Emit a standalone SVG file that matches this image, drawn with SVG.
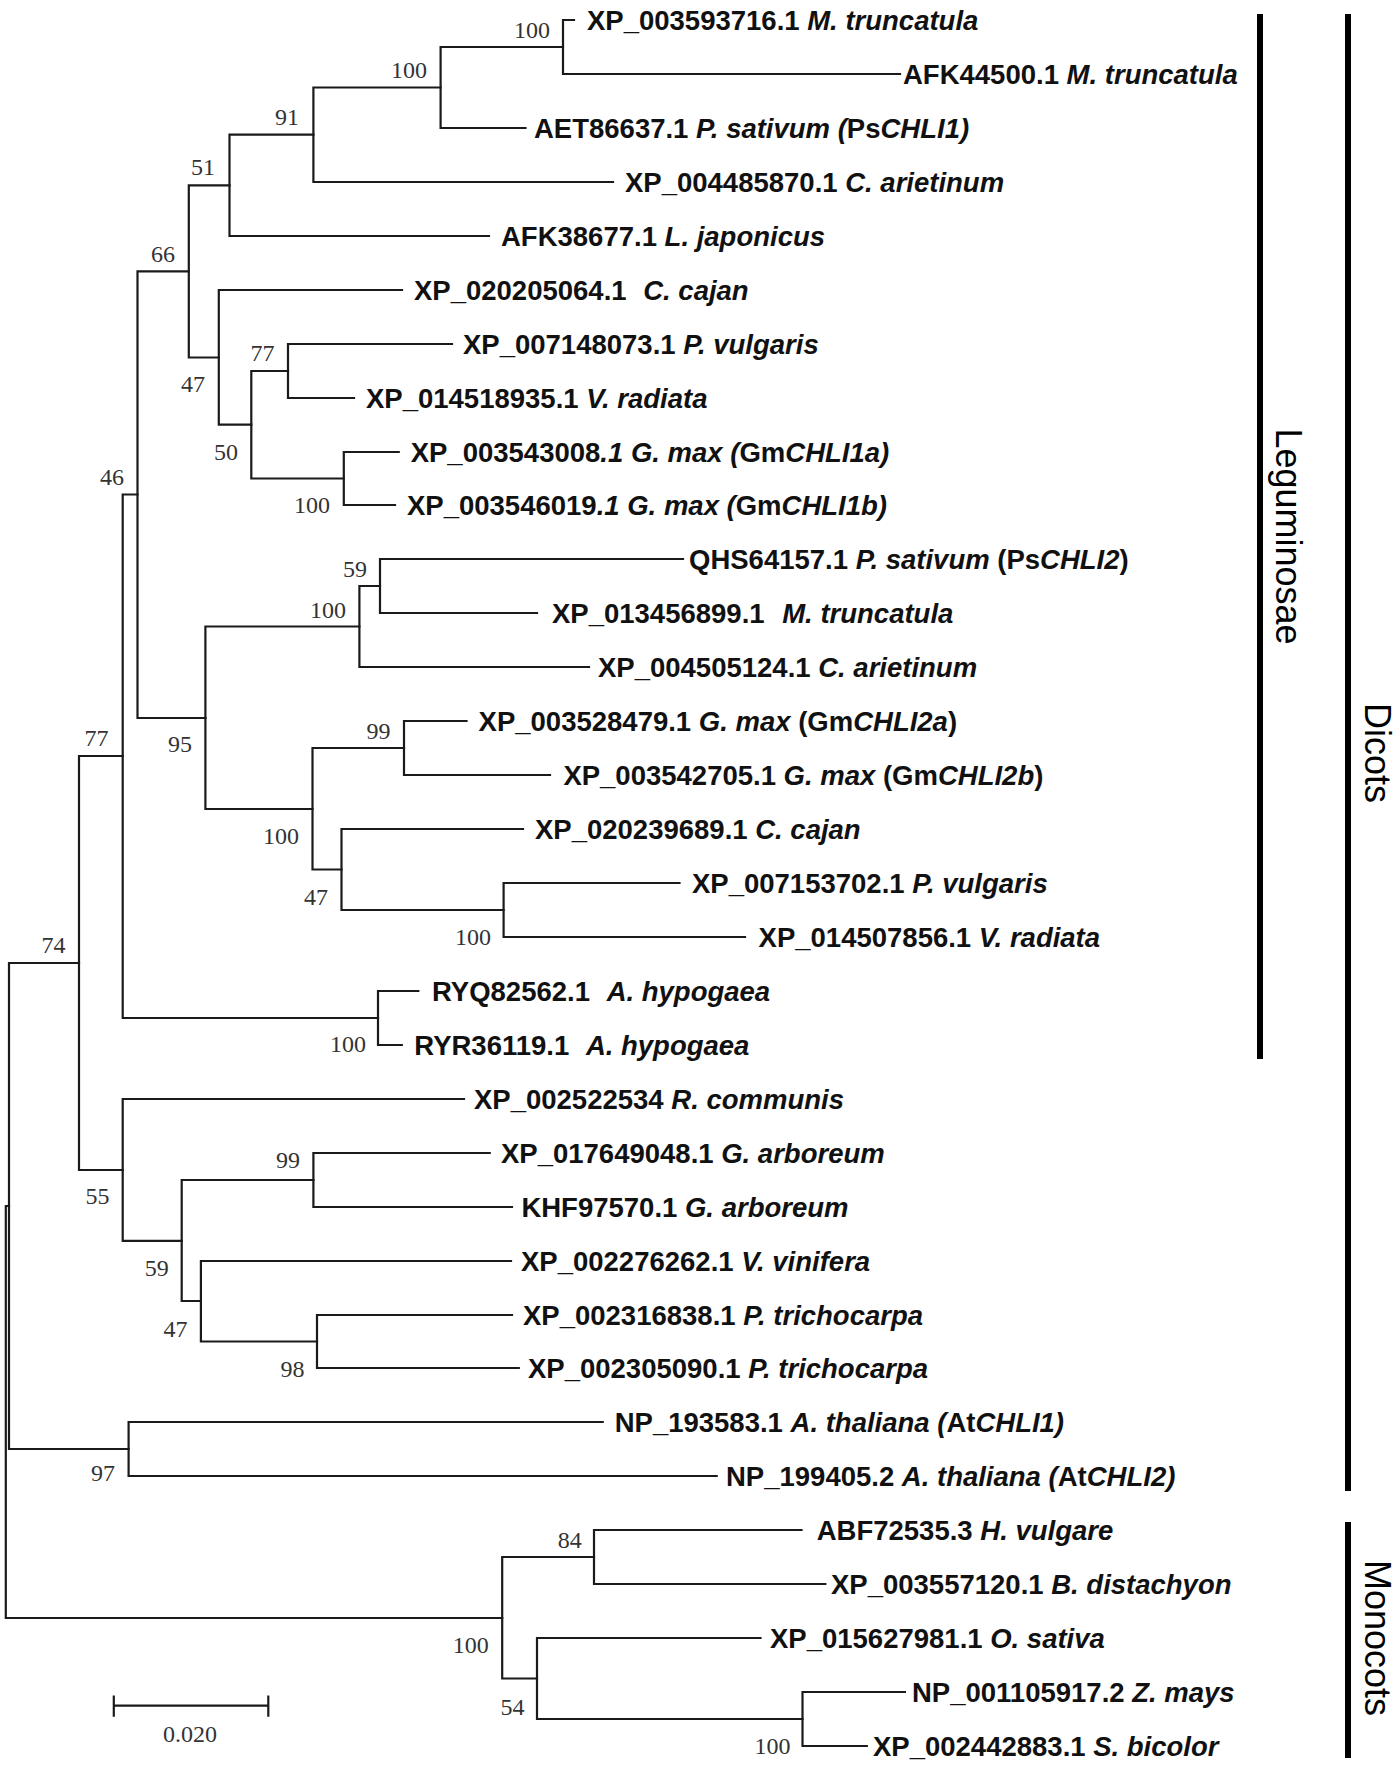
<svg xmlns="http://www.w3.org/2000/svg" width="1397" height="1772" viewBox="0 0 1397 1772">
<style>
.br{fill:none;stroke:#1a1a1a;stroke-width:2.2;stroke-linecap:square}
.bar{fill:none;stroke:#000;stroke-width:6}
.lf{font-family:"Liberation Sans",Arial,sans-serif;font-weight:bold;font-size:27.5px;fill:#111}
.i{font-style:italic}
.bs{font-family:"Liberation Serif","Times New Roman",serif;font-size:24px;fill:#333;text-anchor:end}
.grp{font-family:"Liberation Sans",Arial,sans-serif;font-size:36px;fill:#000;text-anchor:middle}
</style>
<rect width="1397" height="1772" fill="#fff"/>
<g id="connectors" class="br">
<path d="M5.8 1206V1618M5.8 1206H9M5.8 1618H502.2"/>
<path d="M9 963V1449M9 963H79M9 1449H128.6"/>
<path d="M79 756V1170M79 756H122.7M79 1170H122.7"/>
<path d="M122.7 494.5V1018M122.7 494.5H137.5M122.7 1018H378"/>
<path d="M137.5 271.4V718M137.5 271.4H188.8M137.5 718H205.4"/>
<path d="M188.8 185.4V357.5M188.8 185.4H229.5M188.8 357.5H218.8"/>
<path d="M229.5 134.7V236M229.5 134.7H313.4M229.5 236H489"/>
<path d="M313.4 87.5V182M313.4 87.5H440.6M313.4 182H613"/>
<path d="M440.6 47V128M440.6 47H563M440.6 128H525.5"/>
<path d="M563 20V74M563 20H574M563 74H900"/>
<path d="M218.8 290V424.7M218.8 290H402M218.8 424.7H251.3"/>
<path d="M251.3 371V478.5M251.3 371H288M251.3 478.5H343.8"/>
<path d="M288 344V398M288 344H452M288 398H354"/>
<path d="M343.8 452V505M343.8 452H398.7M343.8 505H395"/>
<path d="M205.4 626.5V809M205.4 626.5H359.4M205.4 809H312.5"/>
<path d="M359.4 586V667M359.4 586H380M359.4 667H589"/>
<path d="M380 559V613M380 559H683M380 613H537"/>
<path d="M312.5 748V869.5M312.5 748H404M312.5 869.5H341.5"/>
<path d="M404 721V775M404 721H466.5M404 775H550"/>
<path d="M341.5 829V910M341.5 829H523M341.5 910H503.6"/>
<path d="M503.6 883V937M503.6 883H679.5M503.6 937H745"/>
<path d="M378 991V1045M378 991H418.3M378 1045H401.8"/>
<path d="M122.7 1099V1240.8M122.7 1099H464M122.7 1240.8H181.7"/>
<path d="M181.7 1180V1301M181.7 1180H313.4M181.7 1301H200.9"/>
<path d="M313.4 1153V1207M313.4 1153H489.7M313.4 1207H512"/>
<path d="M200.9 1261V1341.5M200.9 1261H511M200.9 1341.5H317"/>
<path d="M317 1315V1368M317 1315H512M317 1368H518.8"/>
<path d="M128.6 1422V1476M128.6 1422H602.7M128.6 1476H716.7"/>
<path d="M502.2 1557V1678.5M502.2 1557H594M502.2 1678.5H537"/>
<path d="M594 1530V1584M594 1530H801.5M594 1584H825.3"/>
<path d="M537 1638V1719M537 1638H760.5M537 1719H802.5"/>
<path d="M802.5 1692V1746M802.5 1692H904.9M802.5 1746H866.8"/>
</g>
<g id="internal-nodes" class="bs">
<text id="nA" x="550" y="37.6">100</text>
<text id="nB" x="427" y="78.3">100</text>
<text id="nC" x="299" y="125">91</text>
<text id="nD" x="215" y="175">51</text>
<text id="nE" x="175" y="261.6">66</text>
<text id="nF" x="205" y="391.6">47</text>
<text id="nX" x="274.5" y="360.6">77</text>
<text id="nW" x="238" y="460">50</text>
<text id="nG" x="124" y="485">46</text>
<text id="nY" x="330" y="513.3">100</text>
<text id="nAB" x="367" y="576.6">59</text>
<text id="nZ" x="346" y="617.6">100</text>
<text id="nI" x="108.5" y="746">77</text>
<text id="nH" x="192" y="752.3">95</text>
<text id="nAC" x="390.6" y="739">99</text>
<text id="nAA" x="299" y="844.3">100</text>
<text id="nAD" x="328" y="905">47</text>
<text id="nAE" x="491" y="945">100</text>
<text id="nK" x="65.6" y="953.3">74</text>
<text id="nJ" x="366" y="1052.3">100</text>
<text id="nN" x="300" y="1168.3">99</text>
<text id="nL" x="109.4" y="1204.3">55</text>
<text id="nM" x="168.8" y="1275.6">59</text>
<text id="nO" x="187.5" y="1336.6">47</text>
<text id="nP" x="304.5" y="1376.6">98</text>
<text id="nQ" x="115" y="1481.3">97</text>
<text id="nT" x="581.7" y="1548.3">84</text>
<text id="nS" x="488.8" y="1653.3">100</text>
<text id="nU" x="524.6" y="1715">54</text>
<text id="nV" x="790.5" y="1754.3">100</text>
</g>
<g id="leaves" class="lf">
<g id="leaf01"><text x="587" y="29.5">XP_003593716.1 <tspan class="i">M. truncatula</tspan></text></g>
<g id="leaf02"><text x="903" y="83.5">AFK44500.1 <tspan class="i">M. truncatula</tspan></text></g>
<g id="leaf03"><text x="534" y="137.5">AET86637.1 <tspan class="i">P. sativum (</tspan>Ps<tspan class="i">CHLI1)</tspan></text></g>
<g id="leaf04"><text x="625" y="191.5">XP_004485870.1 <tspan class="i">C. arietinum</tspan></text></g>
<g id="leaf05"><text x="501" y="245.5">AFK38677.1 <tspan class="i">L. japonicus</tspan></text></g>
<g id="leaf06"><text x="414" y="299.5">XP_020205064.1 <tspan class="i" dx="9">C. cajan</tspan></text></g>
<g id="leaf07"><text x="463" y="353.5">XP_007148073.1 <tspan class="i">P. vulgaris</tspan></text></g>
<g id="leaf08"><text x="366" y="407.5">XP_014518935.1 <tspan class="i">V. radiata</tspan></text></g>
<g id="leaf09"><text x="410.7" y="461.5">XP_003543008<tspan class="i">.1 G. max (</tspan>Gm<tspan class="i">CHLI1a)</tspan></text></g>
<g id="leaf10"><text x="407" y="514.5">XP_003546019<tspan class="i">.1 G. max (</tspan>Gm<tspan class="i">CHLI1b)</tspan></text></g>
<g id="leaf11"><text x="689" y="568.5">QHS64157.1 <tspan class="i">P. sativum</tspan> (Ps<tspan class="i">CHLI2</tspan>)</text></g>
<g id="leaf12"><text x="552" y="622.5">XP_013456899.1 <tspan class="i" dx="10">M. truncatula</tspan></text></g>
<g id="leaf13"><text x="598" y="676.5">XP_004505124.1 <tspan class="i">C. arietinum</tspan></text></g>
<g id="leaf14"><text x="478.6" y="730.5">XP_003528479.1 <tspan class="i">G. max</tspan> (Gm<tspan class="i">CHLI2a</tspan>)</text></g>
<g id="leaf15"><text x="563.4" y="784.5">XP_003542705.1 <tspan class="i">G. max</tspan> (Gm<tspan class="i">CHLI2b</tspan>)</text></g>
<g id="leaf16"><text x="535" y="838.5">XP_020239689.1 <tspan class="i">C. cajan</tspan></text></g>
<g id="leaf17"><text x="692" y="892.5">XP_007153702.1 <tspan class="i">P. vulgaris</tspan></text></g>
<g id="leaf18"><text x="758.6" y="946.5">XP_014507856.1 <tspan class="i">V. radiata</tspan></text></g>
<g id="leaf19"><text x="432" y="1000.5">RYQ82562.1 <tspan class="i" dx="9">A. hypogaea</tspan></text></g>
<g id="leaf20"><text x="414.3" y="1054.5">RYR36119.1 <tspan class="i" dx="9">A. hypogaea</tspan></text></g>
<g id="leaf21"><text x="474" y="1108.5">XP_002522534 <tspan class="i">R. communis</tspan></text></g>
<g id="leaf22"><text x="501" y="1162.5">XP_017649048.1 <tspan class="i">G. arboreum</tspan></text></g>
<g id="leaf23"><text x="521.4" y="1216.5">KHF97570.1 <tspan class="i">G. arboreum</tspan></text></g>
<g id="leaf24"><text x="521" y="1270.5">XP_002276262.1 <tspan class="i">V. vinifera</tspan></text></g>
<g id="leaf25"><text x="523" y="1324.5">XP_002316838.1 <tspan class="i">P. trichocarpa</tspan></text></g>
<g id="leaf26"><text x="528" y="1377.5">XP_002305090.1 <tspan class="i">P. trichocarpa</tspan></text></g>
<g id="leaf27"><text x="614.7" y="1431.5">NP_193583.1 <tspan class="i">A. thaliana (</tspan>At<tspan class="i">CHLI1)</tspan></text></g>
<g id="leaf28"><text x="726" y="1485.5">NP_199405.2 <tspan class="i">A. thaliana (</tspan>At<tspan class="i">CHLI2)</tspan></text></g>
<g id="leaf29"><text x="816.7" y="1539.5">ABF72535.3 <tspan class="i">H. vulgare</tspan></text></g>
<g id="leaf30"><text x="831" y="1593.5">XP_003557120.1 <tspan class="i">B. distachyon</tspan></text></g>
<g id="leaf31"><text x="770" y="1647.5">XP_015627981.1 <tspan class="i">O. sativa</tspan></text></g>
<g id="leaf32"><text x="912" y="1701.5">NP_001105917.2 <tspan class="i">Z. mays</tspan></text></g>
<g id="leaf33"><text x="873" y="1755.5">XP_002442883.1 <tspan class="i">S. bicolor</tspan></text></g>
</g>
<g id="scale-bar">
<path class="br" d="M113.8 1705.7H268.3M113.8 1696.7V1715.7M268.3 1696.7V1715.7"/>
<text x="190" y="1742" font-family="Liberation Serif, serif" font-size="24" fill="#333" text-anchor="middle">0.020</text>
</g>
<g id="group-leguminosae">
<line class="bar" x1="1260" y1="14" x2="1260" y2="1059"/>
<text class="grp" transform="translate(1276 536.5) rotate(90)">Leguminosae</text>
</g>
<g id="group-dicots">
<line class="bar" x1="1348" y1="14" x2="1348" y2="1491"/>
<text class="grp" transform="translate(1365 753) rotate(90)">Dicots</text>
</g>
<g id="group-monocots">
<line class="bar" x1="1348" y1="1522" x2="1348" y2="1758"/>
<text class="grp" transform="translate(1365 1638) rotate(90)">Monocots</text>
</g>
</svg>
